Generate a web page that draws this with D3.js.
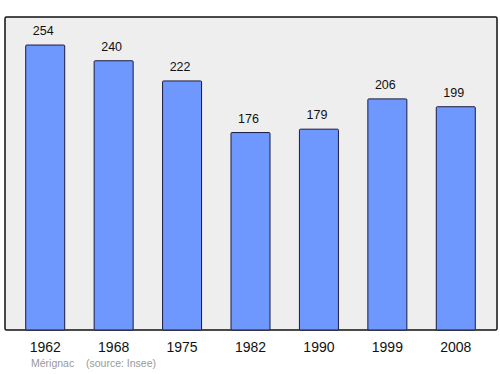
<!DOCTYPE html>
<html>
<head>
<meta charset="utf-8">
<script src="https://cdn.jsdelivr.net/npm/d3@7"></script>
<style>
  body { margin: 0; background: #fff; }
  svg { font-family: "Liberation Sans", Arial, sans-serif; }
</style>
</head>
<body>
<div class="chart"></div>
<script>
const years = ['1962', '1968', '1975', '1982', '1990', '1999', '2008'];
const population = [254, 240, 222, 176, 179, 206, 199];
const town = 'Mérignac';
const source = '(source: Insee)';

const w = 500;
const h = 374;
const frame = { left: 5, top: 17, right: 497, bottom: 330 };

const svg = d3.select('.chart')
  .append('svg')
  .attr('width', w)
  .attr('height', h);

const xScale = d3.scaleBand()
  .domain(years)
  .range([11, 490])
  .paddingInner(0.43)
  .paddingOuter(0.215);

const yScale = d3.scaleLinear()
  .domain([0, 279])
  .range([frame.bottom, frame.top]);

svg.append('rect')
  .attr('x', frame.left)
  .attr('y', frame.top)
  .attr('width', frame.right - frame.left)
  .attr('height', frame.bottom - frame.top)
  .attr('rx', 1.5)
  .attr('fill', '#eeeeee')
  .attr('stroke', '#111')
  .attr('stroke-width', 1.5);

svg.selectAll('rect.bar')
  .data(population)
  .enter()
  .append('rect')
  .attr('class', 'bar')
  .attr('x', (d, i) => xScale(years[i]))
  .attr('y', (d) => yScale(d))
  .attr('width', xScale.bandwidth())
  .attr('height', (d) => yScale(0) - yScale(d))
  .attr('rx', 1)
  .attr('fill', '#6f98ff')
  .attr('stroke', '#1a1a40')
  .attr('stroke-width', 1);

// value labels sit a little left of the bar centre, as in the original
svg.selectAll('text.value')
  .data(population)
  .enter()
  .append('text')
  .attr('class', 'value')
  .attr('x', (d, i) => xScale(years[i]) + xScale.bandwidth() / 2 - 2)
  .attr('y', (d) => yScale(d) - 10)
  .attr('text-anchor', 'middle')
  .style('font-size', '12.5px')
  .attr('fill', '#111')
  .text((d) => d);

const xAxis = svg.append('g')
  .attr('transform', `translate(0, ${frame.bottom})`)
  .call(d3.axisBottom(xScale).tickSize(0).tickPadding(12));
xAxis.select('.domain').remove();
xAxis.selectAll('text')
  .style('font-size', '14px')
  .style('font-family', '"Liberation Sans", Arial, sans-serif')
  .attr('fill', '#111');

svg.append('text')
  .attr('x', 31)
  .attr('y', 367)
  .style('font-size', '10.5px')
  .attr('fill', '#999')
  .text(town);

svg.append('text')
  .attr('x', 86)
  .attr('y', 367)
  .style('font-size', '10.5px')
  .attr('fill', '#999')
  .text(source);
</script>
</body>
</html>
